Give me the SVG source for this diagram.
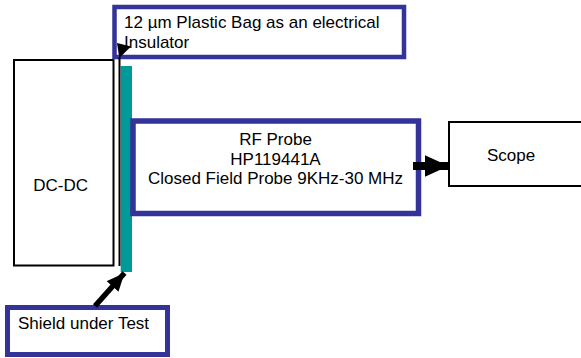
<svg xmlns="http://www.w3.org/2000/svg" width="581" height="358" viewBox="0 0 581 358">
<style>
  .lbl { fill: #fff; stroke: #333399; }
  .blk { fill: #fff; stroke: #000; stroke-width: 2; }
  text { font-family: "Liberation Sans", Arial, sans-serif; font-size: 17px; fill: #000; }
  .c { text-anchor: middle; }
</style>
<defs>
  <marker id="ah" markerUnits="userSpaceOnUse" viewBox="0 0 24 22" refX="24" refY="11" markerWidth="24" markerHeight="22" orient="auto">
    <path d="M0,0 L24,11 L0,22 Z" fill="#000"/>
  </marker>
  <marker id="ah2" markerUnits="userSpaceOnUse" viewBox="0 0 18 16" refX="18" refY="8" markerWidth="18" markerHeight="16" orient="auto">
    <path d="M0,0 L18,8 L0,16 Z" fill="#000"/>
  </marker>
</defs>
<rect width="581" height="358" fill="#fff"/>

<g id="dcdc">
  <rect class="blk" x="14" y="60" width="99.5" height="205.5"/>
  <text x="33.3" y="190.7">DC-DC</text>
</g>

<g id="shield">
  <rect x="120.7" y="66" width="11.3" height="206" fill="#009999"/>
</g>

<g id="insulator-label">
  <rect class="lbl" x="114.5" y="7" width="289.5" height="50" stroke-width="4.5"/>
  <text x="124" y="28">12 µm Plastic Bag as an electrical</text>
  <text x="124" y="48">Insulator</text>
</g>

<g id="rf-probe">
  <rect class="lbl" x="133" y="121" width="285.5" height="92.5" stroke-width="5.5"/>
  <text class="c" x="275.5" y="145">RF Probe</text>
  <text class="c" x="275.5" y="164.5">HP119441A</text>
  <text class="c" x="275.5" y="184">Closed Field Probe 9KHz-30 MHz</text>
</g>

<g id="scope">
  <rect class="blk" x="449" y="122" width="140" height="64"/>
  <text x="487" y="161">Scope</text>
</g>

<g id="shield-label">
  <rect class="lbl" x="7.5" y="307.5" width="160" height="47" stroke-width="5"/>
  <text x="18" y="329.3">Shield under Test</text>
</g>

<g id="connectors">
  <line x1="119.5" y1="57" x2="119.5" y2="266" stroke="#000" stroke-width="2"/>
  <polygon points="117,43 131,46.5 119.3,58" fill="#000"/>
  <line x1="413" y1="166" x2="448.5" y2="166" stroke="#000" stroke-width="8" marker-end="url(#ah)"/>
  <line x1="95" y1="306" x2="124.5" y2="273" stroke="#000" stroke-width="5.5" marker-end="url(#ah2)"/>
</g>
</svg>
